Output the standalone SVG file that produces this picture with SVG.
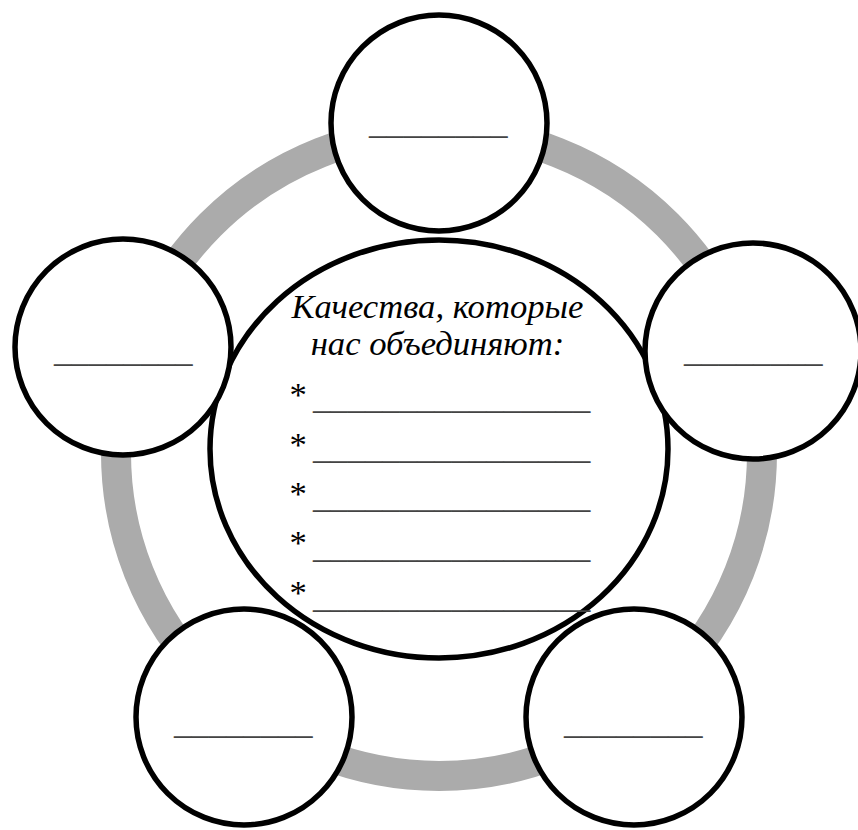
<svg xmlns="http://www.w3.org/2000/svg" width="858" height="830" viewBox="0 0 858 830">
<style>
.node{fill:#ffffff;stroke:#000000;stroke-width:5.5}
.ring{fill:none;stroke:#ababab;stroke-width:30}
.t{font-family:"Liberation Serif","Times New Roman",serif;font-size:34.67px;fill:#000000}
.u{font-family:"Liberation Serif","Times New Roman",serif;font-size:34.67px;fill:#444444}
.it{font-style:italic}
</style>
<rect width="858" height="830" fill="#ffffff"/>
<g id="connectors">
<circle class="ring" cx="439" cy="453" r="323"/>
</g>
<g id="center">
<ellipse class="node" cx="439" cy="449" rx="229" ry="209"/>
<text class="t it" x="437.5" y="318" text-anchor="middle">Качества, которые</text>
<text class="t it" x="437.5" y="355" text-anchor="middle">нас объединяют:</text>
<text class="t" x="289.5" y="406">*</text>
<text class="u" x="313" y="408.5">________________</text>
<text class="t" x="289.5" y="456">*</text>
<text class="u" x="313" y="458.5">________________</text>
<text class="t" x="289.5" y="505">*</text>
<text class="u" x="313" y="507.5">________________</text>
<text class="t" x="289.5" y="554">*</text>
<text class="u" x="313" y="557.5">________________</text>
<text class="t" x="289.5" y="604">*</text>
<text class="u" x="313" y="607.5">________________</text>
</g>
<g id="top">
<circle class="node" cx="439" cy="123" r="108"/>
<text class="u" x="369" y="133.5">________</text>
</g>
<g id="left">
<circle class="node" cx="123" cy="347" r="108"/>
<text class="u" x="54" y="362">________</text>
</g>
<g id="right">
<circle class="node" cx="753" cy="351" r="108"/>
<text class="u" x="684" y="362">________</text>
</g>
<g id="bottom-left">
<circle class="node" cx="244" cy="717" r="108"/>
<text class="u" x="174" y="733.5">________</text>
</g>
<g id="bottom-right">
<circle class="node" cx="634" cy="717" r="108"/>
<text class="u" x="564" y="733.5">________</text>
</g>
</svg>
